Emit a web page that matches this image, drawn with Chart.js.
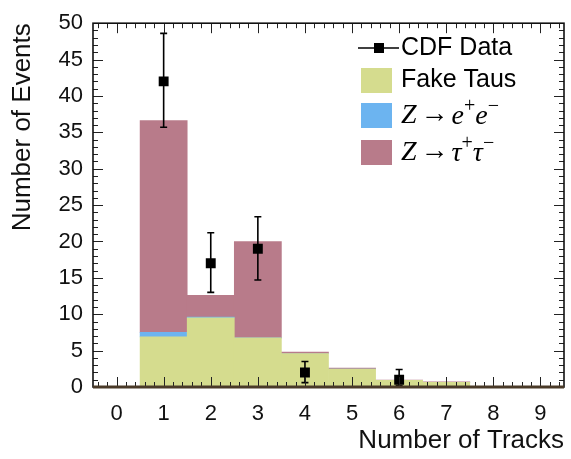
<!DOCTYPE html>
<html><head><meta charset="utf-8">
<script src="https://cdn.jsdelivr.net/npm/chart.js@4"></script>
<style>html,body{margin:0;padding:0;background:#fff}</style>
</head><body>
<canvas id="c" width="571" height="459"></canvas>
<script>
// ---- data ----
const tracks = ['0','1','2','3','4','5','6','7','8','9'];
const fakeTaus = [0, 6.9, 9.5, 6.75, 4.6, 2.45, 0.9, 0.65, 0.1, 0.05];
const zee      = [0, 0.6, 0.1, 0, 0, 0, 0, 0, 0, 0];
const ztautau  = [0, 29.1, 3.0, 13.25, 0.2, 0.15, 0.05, 0.05, 0, 0];
const cdfData    = [null, 42, 17, 19, 2, null, 1, null, null, null];
const cdfErrUp   = [null, 48.6, 21.2, 23.4, 3.5, null, 2.4, null, null, null];
const cdfErrDown = [null, 35.7, 13.0, 14.7, 0.6, null, 0.2, null, null, null];
const yTickStep = 5;
const legendLabels = ['CDF Data', 'Fake Taus', 'Z\u2192e+e\u2212', 'Z\u2192\u03c4+\u03c4\u2212'];

const COL_FAKE = '#d5dc8e', COL_ZEE = '#6cb4f0', COL_ZTT = '#b87b8a';
const SANS = "'Liberation Sans', Arial, sans-serif";
const SERIF = "'Liberation Serif', 'Times New Roman', serif";

const framePlugin = {
  id: 'frame',
  afterDatasetsDraw(chart) {
    const ctx = chart.ctx, a = chart.chartArea;
    const xs = chart.scales.x, ys = chart.scales.y;
    ctx.save();
    // error bars
    ctx.strokeStyle = '#000'; ctx.lineWidth = 1.6;
    cdfData.forEach((v, i) => {
      if (v === null) return;
      const px = xs.getPixelForValue(i);
      const hi = ys.getPixelForValue(cdfErrUp[i]), lo = ys.getPixelForValue(cdfErrDown[i]);
      ctx.beginPath();
      ctx.moveTo(px, hi); ctx.lineTo(px, lo);
      ctx.moveTo(px - 3.5, hi); ctx.lineTo(px + 3.5, hi);
      ctx.moveTo(px - 3.5, lo); ctx.lineTo(px + 3.5, lo);
      ctx.stroke();
    });
    // ticks
    const x0 = xs.getPixelForValue(0), bw = xs.getPixelForValue(1) - x0;
    ctx.strokeStyle = '#222'; ctx.lineWidth = 1;
    ctx.beginPath();
    for (let k = -2; k <= 47; k++) {
      const px = Math.round(x0 + (k / 5) * bw) + 0.5;
      const len = k % 5 === 0 ? 10 : 5;
      ctx.moveTo(px, a.bottom); ctx.lineTo(px, a.bottom - len);
      ctx.moveTo(px, a.top); ctx.lineTo(px, a.top + len);
    }
    for (let v = ys.min; v <= ys.max; v++) {
      const py = Math.round(ys.getPixelForValue(v)) + 0.5;
      const len = v % yTickStep === 0 ? 10 : 5;
      ctx.moveTo(a.left, py); ctx.lineTo(a.left + len, py);
      ctx.moveTo(a.right, py); ctx.lineTo(a.right - len, py);
    }
    ctx.stroke();
    // frame
    ctx.strokeStyle = '#111'; ctx.lineWidth = 1.6;
    ctx.strokeRect(a.left, a.top, a.right - a.left, a.bottom - a.top);
    ctx.strokeStyle = '#4a3a28'; ctx.lineWidth = 3;
    ctx.beginPath(); ctx.moveTo(a.left, a.bottom); ctx.lineTo(a.right, a.bottom); ctx.stroke();
    ctx.restore();
  },
  afterDraw(chart) {
    const ctx = chart.ctx;
    ctx.save();
    const bx = 361, bwid = 31, tx = 401;
    const rows = [48, 80, 115, 152];
    // CDF data entry
    ctx.strokeStyle = '#000'; ctx.lineWidth = 1.6;
    ctx.beginPath(); ctx.moveTo(358, rows[0]); ctx.lineTo(399, rows[0]); ctx.stroke();
    ctx.fillStyle = '#000'; ctx.fillRect(374, rows[0] - 5, 10, 10);
    // boxes
    [COL_FAKE, COL_ZEE, COL_ZTT].forEach((c, i) => {
      ctx.fillStyle = c; ctx.fillRect(bx, rows[i + 1] - 12, bwid, 25);
    });
    ctx.fillStyle = '#000'; ctx.textBaseline = 'middle'; ctx.textAlign = 'left';
    ctx.font = '25px ' + SANS;
    ctx.fillText(legendLabels[0], tx, rows[0]);
    ctx.fillText(legendLabels[1], tx, rows[1]);
    // math entries
    const drawMath = (y, particle) => {
      let x = tx;
      const part = (txt, font, dy, gap) => { ctx.font = font; ctx.fillText(txt, x, y + dy); x += ctx.measureText(txt).width + (gap || 0); };
      part('Z', 'italic 28px ' + SERIF, 1, 4);
      part('\u2192', '28px ' + SERIF, 0, 3);
      part(particle, 'italic 28px ' + SERIF, 2, 0);
      part('+', '20px ' + SERIF, -8, 0);
      part(particle, 'italic 28px ' + SERIF, 2, 0);
      part('\u2212', '20px ' + SERIF, -8, 0);
    };
    drawMath(rows[2], 'e');
    drawMath(rows[3], '\u03c4');
    ctx.restore();
  }
};

new Chart(document.getElementById('c'), {
  data: {
    labels: tracks,
    datasets: [
      { type: 'bar', label: legendLabels[1], data: fakeTaus, backgroundColor: COL_FAKE, stack: 'mc', barPercentage: 1, categoryPercentage: 1, borderWidth: 0, order: 1 },
      { type: 'bar', label: legendLabels[2], data: zee, backgroundColor: COL_ZEE, stack: 'mc', barPercentage: 1, categoryPercentage: 1, borderWidth: 0, order: 2 },
      { type: 'bar', label: legendLabels[3], data: ztautau, backgroundColor: COL_ZTT, stack: 'mc', barPercentage: 1, categoryPercentage: 1, borderWidth: 0, order: 3 },
      { type: 'line', label: legendLabels[0], data: cdfData, stack: 'data', showLine: false, pointStyle: 'rect', pointRadius: 7, backgroundColor: '#000', borderColor: '#000', borderWidth: 0, order: 0 }
    ]
  },
  options: {
    responsive: false, animation: false, devicePixelRatio: 1,
    layout: { padding: { left: 0, right: 4, top: 14, bottom: 0 } },
    plugins: { legend: { display: false }, tooltip: { enabled: false } },
    scales: {
      x: {
        type: 'category', offset: true, stacked: true,
        grid: { display: false, drawTicks: false }, border: { display: false },
        ticks: { color: '#111', font: { size: 22, family: SANS }, padding: 14, maxRotation: 0, autoSkip: false },
        title: { display: true, text: 'Number of Tracks', align: 'end', color: '#111', font: { size: 26, family: SANS }, padding: { top: 0, bottom: 3 } },
        afterFit(s) { s.height = 72; }
      },
      y: {
        stacked: true, min: 0, max: 50,
        grid: { display: false, drawTicks: false }, border: { display: false },
        ticks: { stepSize: yTickStep, color: '#111', font: { size: 22, family: SANS }, padding: 10 },
        title: { display: true, text: 'Number of Events', align: 'end', color: '#111', font: { size: 26, family: SANS }, padding: { top: 7, bottom: 0 } },
        afterFit(s) { s.width = 93; }
      }
    }
  },
  plugins: [framePlugin]
});
</script>
</body></html>
